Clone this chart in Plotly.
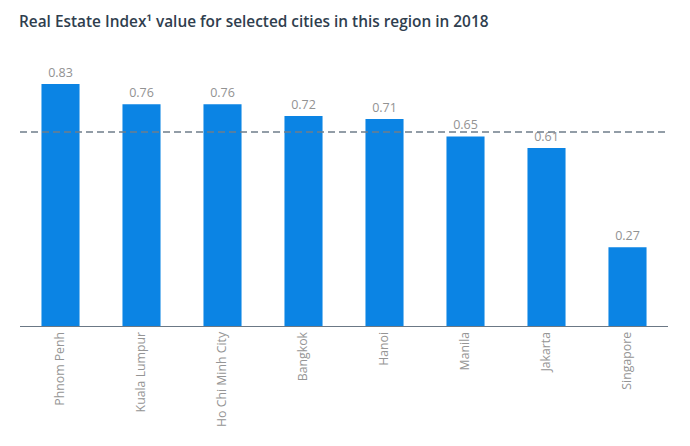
import plotly.graph_objects as go

cities = ["Phnom Penh", "Kuala Lumpur", "Ho Chi Minh City", "Bangkok", "Hanoi", "Manila", "Jakarta", "Singapore"]
values = [0.83, 0.76, 0.76, 0.72, 0.71, 0.65, 0.61, 0.27]
reference_value = 0.665
title = "Real Estate Index¹ value for selected cities in this region in 2018"

W, H = 682, 438

fig = go.Figure()
fig.add_trace(go.Bar(
    x=cities, y=values,
    marker=dict(color="#0b84e4", line=dict(width=0)),
    width=0.47,
    text=[f"{v:.2f}" for v in values],
    textposition="outside",
    textfont=dict(family="Open Sans", size=12.5, color="#929292"),
    cliponaxis=False,
))
fig.add_hline(y=reference_value, line=dict(color="#6f7d8a", width=1.4, dash="7px,4px"))

fig.update_layout(
    width=W, height=H,
    margin=dict(l=12, r=22, t=52, b=120, autoexpand=False),
    paper_bgcolor="white", plot_bgcolor="white",
    showlegend=False,
    title=dict(text=title, x=11/W, xref="container", xanchor="left", y=1 - 14/H, yref="container",
               yanchor="middle", pad=dict(l=0, r=0, t=0, b=0), automargin=False,
               font=dict(family="Open Sans", size=15.4, weight=600, color="#2f3e4e")),
    xaxis=dict(showgrid=False, showline=True, linecolor="#6b7885", linewidth=1, automargin=False,
               tickangle=-90, ticks="", tickfont=dict(family="Open Sans", size=12.3, color="#959595")),
    yaxis=dict(range=[0, 0.912], visible=False, automargin=False),
    bargap=0.53,
)
fig.write_html("out.html")
